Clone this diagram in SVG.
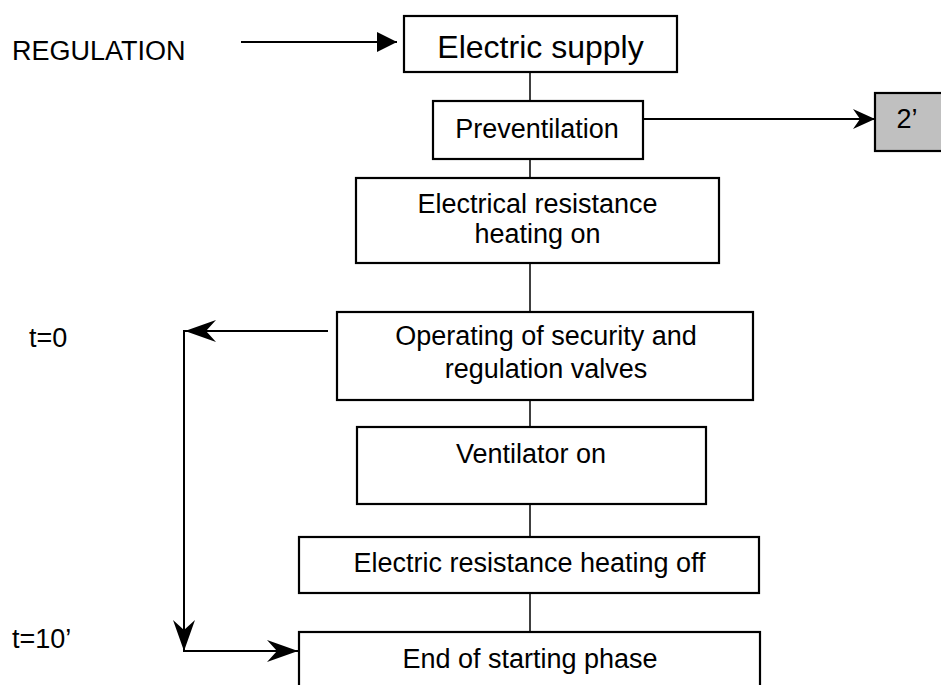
<svg xmlns="http://www.w3.org/2000/svg" width="941" height="685" viewBox="0 0 941 685">
<defs>
<style>
.box{fill:#ffffff;stroke:#000000;stroke-width:2.2}
.grey{fill:#c0c0c0;stroke:#000000;stroke-width:2.2}
.t{font-family:"Liberation Sans",Arial,sans-serif;font-size:27px;fill:#000000;text-anchor:middle}
.l{font-family:"Liberation Sans",Arial,sans-serif;font-size:27px;fill:#000000}
.thin{stroke:#000000;stroke-width:1.5;fill:none}
.arr{stroke:#000000;stroke-width:2;fill:none}
</style>
<marker id="barb" viewBox="-33 -12 35 24" refX="0" refY="0" markerWidth="35" markerHeight="24" markerUnits="userSpaceOnUse" orient="auto">
<path d="M0,0 L-31,-11 L-21,0 L-31,11 Z" fill="#000000"/>
</marker>
<marker id="barbs" viewBox="-24 -12 26 24" refX="0" refY="0" markerWidth="26" markerHeight="24" markerUnits="userSpaceOnUse" orient="auto">
<path d="M0,0 L-22,-10 L-15,0 L-22,10 Z" fill="#000000"/>
</marker>
<marker id="tri" viewBox="-22 -12 24 24" refX="0" refY="0" markerWidth="24" markerHeight="24" markerUnits="userSpaceOnUse" orient="auto">
<path d="M0,0 L-20,-10 L-20,10 Z" fill="#000000"/>
</marker>
</defs>
<rect width="941" height="685" fill="#ffffff"/>

<g id="connectors">
<line class="arr" x1="241" y1="42" x2="397" y2="42" marker-end="url(#tri)"/>
<line class="thin" x1="530" y1="72" x2="530" y2="101"/>
<line class="arr" x1="643" y1="119" x2="875" y2="119" marker-end="url(#barbs)"/>
<line class="thin" x1="530" y1="159" x2="530" y2="178"/>
<line class="thin" x1="530" y1="263" x2="530" y2="312"/>
<line class="thin" x1="530" y1="400" x2="530" y2="427"/>
<line class="thin" x1="530" y1="504" x2="530" y2="537"/>
<line class="thin" x1="530" y1="593" x2="530" y2="632"/>
<line class="arr" x1="328" y1="331" x2="185" y2="331" marker-end="url(#barb)"/>
<line class="arr" x1="184" y1="330" x2="184" y2="651" marker-end="url(#barb)"/>
<line class="arr" x1="183" y1="651" x2="298" y2="651" marker-end="url(#barb)"/>
</g>

<g id="label-regulation"><text class="l" x="12" y="60">REGULATION</text></g>
<g id="label-t0"><text class="l" x="29" y="347">t=0</text></g>
<g id="label-t10"><text class="l" x="12" y="648">t=10’</text></g>

<g id="electric-supply">
<rect class="box" x="404" y="16" width="273" height="56"/>
<text class="t" x="540.5" y="58" style="font-size:32px">Electric supply</text>
</g>
<g id="preventilation">
<rect class="box" x="433" y="101" width="210" height="58"/>
<text class="t" x="537" y="138">Preventilation</text>
</g>
<g id="two-min">
<rect class="grey" x="875" y="93" width="80" height="58"/>
<text class="t" x="907" y="128">2’</text>
</g>
<g id="heating-on">
<rect class="box" x="356" y="178" width="363" height="85"/>
<text class="t" x="537.5" y="213">Electrical resistance</text>
<text class="t" x="537.5" y="243">heating on</text>
</g>
<g id="valves">
<rect class="box" x="337" y="312" width="416" height="88"/>
<text class="t" x="546" y="345">Operating of security and</text>
<text class="t" x="546" y="378">regulation valves</text>
</g>
<g id="ventilator">
<rect class="box" x="357" y="427" width="349" height="77"/>
<text class="t" x="531" y="463">Ventilator on</text>
</g>
<g id="heating-off">
<rect class="box" x="299" y="537" width="460" height="56"/>
<text class="t" x="529.5" y="572">Electric resistance heating off</text>
</g>
<g id="end-phase">
<rect class="box" x="299" y="632" width="461" height="70"/>
<text class="t" x="530" y="668">End of starting phase</text>
</g>
</svg>
